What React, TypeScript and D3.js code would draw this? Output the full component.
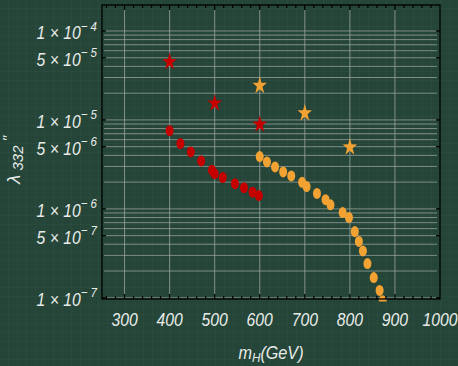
import * as d3 from "d3";
import { useEffect, useRef } from "react";

// mass (GeV) and coupling values
const redStarM = [400, 500, 600];
const redStarV = [4.5e-5, 1.54e-5, 8.9e-6];
const orangeStarM = [600, 700, 800];
const orangeStarV = [2.43e-5, 1.19e-5, 4.93e-6];

const redDotM = [400, 424, 447, 470, 494, 500, 518, 545, 565, 584, 598];
const redDotV = [7.58e-6, 5.42e-6, 4.37e-6, 3.46e-6, 2.72e-6, 2.49e-6, 2.25e-6, 1.92e-6, 1.73e-6, 1.54e-6, 1.41e-6];

const orangeDotM = [600, 616, 634, 652, 670, 694, 704, 727, 746, 757, 784, 798, 811, 820, 829, 839, 853, 866, 873];
const orangeDotV = [3.87e-6, 3.37e-6, 2.96e-6, 2.6e-6, 2.35e-6, 1.99e-6, 1.78e-6, 1.49e-6, 1.27e-6, 1.11e-6, 9.09e-7, 7.98e-7, 5.56e-7, 4.3e-7, 3.37e-7, 2.43e-7, 1.69e-7, 1.21e-7, 9.3e-8];

const xTicks = [300, 400, 500, 600, 700, 800, 900, 1000];
const yTickVals = [1e-4, 5e-5, 1e-5, 5e-6, 1e-6, 5e-7, 1e-7];
const yTickMant = ["1", "5", "1", "5", "1", "5", "1"];
const yTickExp = ["4", "5", "5", "6", "6", "7", "7"];

const W = 458;
const H = 366;
const bg = "#244538";
const red = "#c40000";
const orange = "#f2a233";
const txt = "#e8ebe8";
const font = "'Liberation Sans', Arial, sans-serif";

const starPath = (cx: number, cy: number) => {
  const R = 8.6, r = 3.3, sx = 0.88, sy = 1.08;
  const pts: string[] = [];
  for (let i = 0; i < 10; i++) {
    const a = -Math.PI / 2 + (i * Math.PI) / 5;
    const rr = i % 2 === 0 ? R : r;
    pts.push(`${cx + Math.cos(a) * rr * sx},${cy + Math.sin(a) * rr * sy}`);
  }
  return "M" + pts.join("L") + "Z";
};

const App = () => {
  const ref = useRef<SVGSVGElement>(null);

  useEffect(() => {
    const svg = d3.select(ref.current);
    svg.selectAll("*").remove();

    const left = 102, right = 440, top = 5, bottom = 299;
    const x = d3.scaleLinear().domain([250, 1000]).range([left, right]);
    const y = d3.scaleLog().domain([9.7e-8, 1.96e-4]).range([bottom, top]);

    const defs = svg.append("defs");
    const pat = defs.append("pattern")
      .attr("id", "paper")
      .attr("width", 9)
      .attr("height", 9)
      .attr("patternUnits", "userSpaceOnUse");
    pat.append("path")
      .attr("d", "M9 0V9M0 9H9")
      .attr("stroke", "rgba(255,255,255,0.045)")
      .attr("fill", "none");
    defs.append("clipPath").attr("id", "plotclip")
      .append("rect")
      .attr("x", left).attr("y", top)
      .attr("width", right - left).attr("height", bottom - top + 2.5);

    svg.append("rect").attr("width", W).attr("height", H).attr("fill", bg);
    svg.append("rect").attr("width", W).attr("height", H).attr("fill", "url(#paper)");

    // grid
    const grid = svg.append("g").attr("stroke", "#9ea5a0").attr("stroke-opacity", 0.75).attr("stroke-width", 1);
    const hVals: number[] = [];
    for (let e = -7; e <= -4; e++) {
      for (let m = 1; m <= 9; m++) {
        const v = m * Math.pow(10, e);
        if (v <= 1e-4 + 1e-12) hVals.push(v);
      }
    }
    hVals.forEach(v => {
      grid.append("line")
        .attr("x1", left + 2).attr("x2", right - 3)
        .attr("y1", y(v)).attr("y2", y(v));
    });
    xTicks.filter(t => t < 1000).forEach(t => {
      grid.append("line")
        .attr("x1", x(t)).attr("x2", x(t))
        .attr("y1", top + 5).attr("y2", bottom);
    });

    // points
    const pts = svg.append("g").attr("clip-path", "url(#plotclip)");
    redDotM.forEach((m, i) => {
      pts.append("ellipse").attr("cx", x(m)).attr("cy", y(redDotV[i]))
        .attr("rx", 4).attr("ry", 5.5).attr("fill", red);
    });
    orangeDotM.forEach((m, i) => {
      pts.append("ellipse").attr("cx", x(m)).attr("cy", y(orangeDotV[i]))
        .attr("rx", 4).attr("ry", 5.5).attr("fill", orange);
    });
    redStarM.forEach((m, i) => {
      pts.append("path").attr("d", starPath(x(m), y(redStarV[i]))).attr("fill", red);
    });
    orangeStarM.forEach((m, i) => {
      pts.append("path").attr("d", starPath(x(m), y(orangeStarV[i]))).attr("fill", orange);
    });

    // frame + ticks
    const ax = svg.append("g").attr("stroke", "#000").attr("stroke-width", 1.3);
    ax.append("rect").attr("x", left).attr("y", top)
      .attr("width", right - left).attr("height", bottom - top).attr("fill", "none");
    for (let t = 260; t < 1000; t += 20) {
      const len = t % 100 === 0 ? 5 : 3;
      ax.append("line").attr("x1", x(t)).attr("x2", x(t)).attr("y1", bottom).attr("y2", bottom - len);
      ax.append("line").attr("x1", x(t)).attr("x2", x(t)).attr("y1", top).attr("y2", top + len);
    }
    yTickVals.forEach(v => {
      ax.append("line").attr("x1", left).attr("x2", left + 4).attr("y1", y(v)).attr("y2", y(v));
      ax.append("line").attr("x1", right).attr("x2", right - 4).attr("y1", y(v)).attr("y2", y(v));
    });

    // tick labels
    const lab = svg.append("g").attr("fill", txt).attr("font-family", font).attr("font-style", "italic");
    xTicks.forEach(t => {
      lab.append("text")
        .attr("transform", `translate(${x(t)},326) scale(0.85,1)`)
        .attr("text-anchor", "middle")
        .attr("font-size", 18.5)
        .text(String(t));
    });
    yTickVals.forEach((v, i) => {
      const tx = lab.append("text")
        .attr("transform", `translate(97,${y(v) + 8.5}) scale(0.85,1)`)
        .attr("text-anchor", "end")
        .attr("font-size", 18.5);
      tx.append("tspan").text(`${yTickMant[i]} \u00d7 10`);
      tx.append("tspan").attr("dy", -9).attr("font-size", 13.5).text(`\u2212 ${yTickExp[i]}`);
    });

    // axis titles
    const xt = lab.append("text")
      .attr("transform", `translate(271,359) scale(0.9,1)`)
      .attr("text-anchor", "middle")
      .attr("font-size", 18);
    xt.append("tspan").text("m");
    xt.append("tspan").attr("dy", 3).attr("font-size", 13).text("H");
    xt.append("tspan").attr("dy", -3).text("(GeV)");

    const yt = lab.append("text")
      .attr("transform", "translate(20,184) rotate(-90)")
      .attr("font-size", 19);
    yt.append("tspan").text("\u03bb");
    yt.append("tspan").attr("dy", 3).attr("font-size", 15).text(" 332");
    yt.append("tspan").attr("dy", -10).attr("font-size", 15).text(" \u2032\u2032");
  }, []);

  return (
    <div style={{ position: "absolute", left: 0, top: 0 }}>
      <svg ref={ref} width={W} height={H} style={{ display: "block" }}></svg>
    </div>
  );
};

export default App;
